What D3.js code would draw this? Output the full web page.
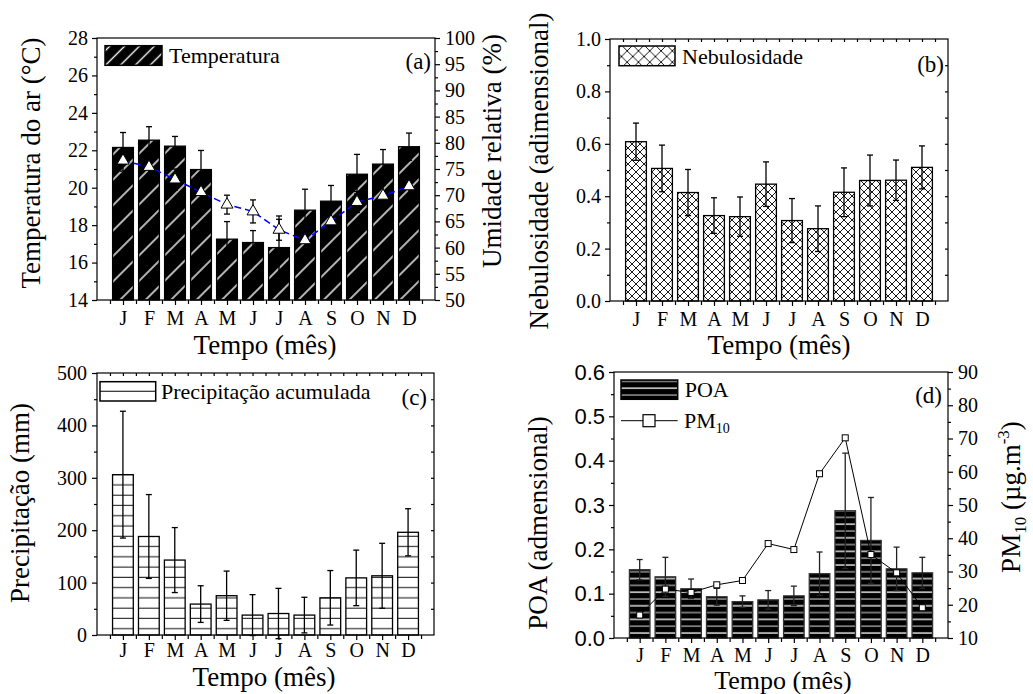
<!DOCTYPE html>
<html>
<head>
<meta charset="utf-8">
<script src="https://cdn.jsdelivr.net/npm/d3@7"></script>
<style>
  body { margin: 0; background: #fff; }
  svg text { fill: #000; }
</style>
</head>
<body>
<script>
// Dados mensais
var meses = ["J", "F", "M", "A", "M", "J", "J", "A", "S", "O", "N", "D"];

var temperatura      = [22.15, 22.54, 22.22, 20.97, 17.25, 17.07, 16.80, 18.80, 19.28, 20.72, 21.26, 22.19];
var temperaturaErro  = [0.80, 0.72, 0.52, 1.02, 0.94, 0.64, 1.69, 1.12, 0.84, 1.06, 0.78, 0.73];
var umidade          = [76.6, 75.4, 73.0, 70.6, 68.2, 66.9, 63.4, 61.4, 65.0, 68.7, 69.9, 71.7];
var umidadeErro      = [2.0, 2.0, 2.0, 2.0, 1.8, 2.2, 2.0, 2.0, 2.0, 2.0, 2.0, 2.0];

var nebulosidade     = [0.608, 0.506, 0.414, 0.326, 0.322, 0.446, 0.307, 0.276, 0.415, 0.460, 0.461, 0.510];
var nebulosidadeErro = [0.071, 0.089, 0.088, 0.068, 0.075, 0.085, 0.084, 0.087, 0.093, 0.097, 0.077, 0.082];

var precipitacao     = [306, 188, 143, 59, 75, 38, 41, 38, 71, 109, 113, 196];
var precipitacaoErro = [121, 80, 62, 35, 47, 39, 48, 34, 52, 53, 62, 45];

var poa              = [0.154, 0.138, 0.111, 0.093, 0.082, 0.086, 0.095, 0.145, 0.287, 0.220, 0.156, 0.147];
var poaErro          = [0.023, 0.044, 0.022, 0.019, 0.013, 0.021, 0.022, 0.049, 0.130, 0.097, 0.049, 0.035];
var pm10             = [16.9, 24.7, 23.7, 26.0, 27.3, 38.4, 36.6, 59.4, 70.2, 35.1, 29.6, 19.1];

var serif = "'Liberation Serif', 'Times New Roman', serif";
var sans  = "'Liberation Sans', Arial, sans-serif";

var width = 1033, height = 694;

var svg = d3.select("body")
    .append("svg")
    .attr("width", width)
    .attr("height", height);

var defs = svg.append("defs");

// ---- hachuras ----
function diagonal(id, s) {
    var p = defs.append("pattern").attr("id", id)
        .attr("patternUnits", "userSpaceOnUse")
        .attr("width", s).attr("height", s)
        .attr("patternTransform", "rotate(45)");
    p.append("rect").attr("width", s).attr("height", s).attr("fill", "#000");
    p.append("line").attr("x1", s / 2).attr("x2", s / 2).attr("y1", 0).attr("y2", s)
        .attr("stroke", "#fff").attr("stroke-width", 1.4);
}
diagonal("diagA", 18);
diagonal("diagALeg", 10.5);

function cruzada(id, s) {
    var p = defs.append("pattern").attr("id", id)
        .attr("patternUnits", "userSpaceOnUse")
        .attr("width", s).attr("height", s);
    p.append("rect").attr("width", s).attr("height", s).attr("fill", "#fff");
    p.append("path").attr("d", "M0,0L" + s + "," + s + "M" + s + ",0L0," + s)
        .attr("stroke", "#000").attr("stroke-width", 0.9);
}
cruzada("cross", 8);
cruzada("crossLeg", 11.3);

var hc = defs.append("pattern").attr("id", "horizC")
    .attr("patternUnits", "userSpaceOnUse")
    .attr("width", 10).attr("height", 10.27).attr("y", 623.7);
hc.append("rect").attr("width", 10).attr("height", 10.27).attr("fill", "#fff");
hc.append("line").attr("x1", 0).attr("x2", 10).attr("y1", 5).attr("y2", 5)
    .attr("stroke", "#222").attr("stroke-width", 1.1);

var hd = defs.append("pattern").attr("id", "horizD")
    .attr("patternUnits", "userSpaceOnUse")
    .attr("width", 10).attr("height", 13.6).attr("y", 630);
hd.append("rect").attr("width", 10).attr("height", 13.6).attr("fill", "#000");
hd.append("line").attr("x1", 0).attr("x2", 10).attr("y1", 3).attr("y2", 3)
    .attr("stroke", "#fff").attr("stroke-width", 1.3);
hd.append("line").attr("x1", 0).attr("x2", 10).attr("y1", 9.8).attr("y2", 9.8)
    .attr("stroke", "#aaa").attr("stroke-width", 1.3);

// ---- funções auxiliares ----
function estilo(g, size, family) {
    g.attr("font-family", family || serif).attr("font-size", size);
    g.select(".domain").remove();
    g.selectAll("line").attr("stroke", "#000").attr("stroke-width", 1.2);
}

function moldura(L, T, R, B) {
    svg.append("rect")
        .attr("x", L).attr("y", T)
        .attr("width", R - L).attr("height", B - T)
        .attr("fill", "none")
        .attr("stroke", "#000")
        .attr("stroke-width", 1.2);
}

function eixoX(x, T, B, topo, pad) {
    var g = svg.append("g").attr("transform", "translate(0," + B + ")")
        .call(d3.axisBottom(x)
            .tickValues(d3.range(1, 13))
            .tickFormat(function(d, i) { return meses[i]; })
            .tickSize(5).tickPadding(pad));
    estilo(g, 20);
    var m = svg.append("g").attr("transform", "translate(0," + B + ")")
        .call(d3.axisBottom(x).tickValues(d3.range(0.5, 13, 1)).tickSize(4).tickFormat(""));
    estilo(m, 20);
    if (topo) {
        var t = svg.append("g").attr("transform", "translate(0," + T + ")")
            .call(d3.axisTop(x).tickValues(d3.range(0.5, 13, 0.5)).tickSize(-3).tickFormat(""));
        estilo(t, 20);
    }
}

function eixoY(y, pos, lado, maiores, menores, fmt, size, family, pad) {
    var ax = lado === "left" ? d3.axisLeft : d3.axisRight;
    var g = svg.append("g").attr("transform", "translate(" + pos + ",0)")
        .call(ax(y).tickValues(maiores).tickFormat(fmt).tickSize(5).tickPadding(pad));
    estilo(g, size, family);
    var m = svg.append("g").attr("transform", "translate(" + pos + ",0)")
        .call(ax(y).tickValues(menores).tickFormat("").tickSize(3));
    estilo(m, size, family);
}

function espelhoY(y, pos, valores) {
    var g = svg.append("g").attr("transform", "translate(" + pos + ",0)")
        .call(d3.axisRight(y).tickValues(valores).tickFormat("").tickSize(-3));
    estilo(g, 20);
}

function barras(x, y, vals, fill, stroke) {
    var bw = (x(1) - x(0)) * 0.8;
    svg.append("g").selectAll("rect")
        .data(vals)
        .enter()
        .append("rect")
        .attr("x", function(d, i) { return x(i + 1) - bw / 2; })
        .attr("y", function(d) { return y(d); })
        .attr("width", bw)
        .attr("height", function(d) { return y.range()[0] - y(d); })
        .attr("fill", fill)
        .attr("stroke", stroke || "#000")
        .attr("stroke-width", 1.3);
}

function erros(x, y, vals, errs, cor) {
    var g = svg.append("g").attr("stroke", cor || "#000").attr("stroke-width", 1.3);
    vals.forEach(function(v, i) {
        var cx = x(i + 1), y1 = y(v + errs[i]), y2 = y(v - errs[i]);
        g.append("line").attr("x1", cx).attr("x2", cx).attr("y1", y1).attr("y2", y2);
        g.append("line").attr("x1", cx - 3).attr("x2", cx + 3).attr("y1", y1).attr("y2", y1);
        g.append("line").attr("x1", cx - 3).attr("x2", cx + 3).attr("y1", y2).attr("y2", y2);
    });
}

function tituloY(txt, x, y, size) {
    return svg.append("text")
        .attr("transform", "translate(" + x + "," + y + ") rotate(-90)")
        .attr("text-anchor", "middle")
        .attr("font-family", serif)
        .attr("font-size", size || 27)
        .text(txt);
}

function tituloX(x, y, size) {
    svg.append("text")
        .attr("x", x).attr("y", y)
        .attr("text-anchor", "middle")
        .attr("font-family", serif)
        .attr("font-size", size || 27)
        .text("Tempo (mês)");
}

function rotulo(txt, x, y) {
    svg.append("text")
        .attr("x", x).attr("y", y)
        .attr("text-anchor", "end")
        .attr("font-family", serif)
        .attr("font-size", 23)
        .text(txt);
}

function legenda(x, y, w, h, fill, txt) {
    svg.append("rect").attr("x", x).attr("y", y).attr("width", w).attr("height", h)
        .attr("fill", fill).attr("stroke", "#000").attr("stroke-width", 1.5);
    svg.append("text").attr("x", x + w + 7).attr("y", y + h - 2)
        .attr("font-family", serif).attr("font-size", 22)
        .text(txt);
}

// ================= (a) temperatura e umidade =================
(function() {
    var L = 97, R = 435, T = 38, B = 300;
    var x = d3.scaleLinear().domain([0, 13]).range([L, R]);
    var y = d3.scaleLinear().domain([14, 28]).range([B, T]);
    var y2 = d3.scaleLinear().domain([50, 100]).range([B, T]);

    barras(x, y, temperatura, "url(#diagA)");
    erros(x, y, temperatura, temperaturaErro);

    var linha = d3.line()
        .x(function(d, i) { return x(i + 1); })
        .y(function(d) { return y2(d); });
    svg.append("path")
        .datum(umidade)
        .attr("d", linha)
        .attr("fill", "none")
        .attr("stroke", "#0000ff")
        .attr("stroke-width", 1.5)
        .attr("stroke-dasharray", "7,4");
    erros(x, y2, umidade, umidadeErro);
    svg.append("g").selectAll("path")
        .data(umidade)
        .enter()
        .append("path")
        .attr("d", d3.symbol().type(d3.symbolTriangle).size(62))
        .attr("transform", function(d, i) { return "translate(" + x(i + 1) + "," + y2(d) + ")"; })
        .attr("fill", "#fff")
        .attr("stroke", "#000")
        .attr("stroke-width", 1);

    moldura(L, T, R, B);
    eixoX(x, T, B, false, 6);
    eixoY(y, L, "left", d3.range(14, 28.1, 2), d3.range(15, 28, 2), d3.format("d"), 20, serif, 4);
    eixoY(y2, R, "right", d3.range(50, 100.1, 5), d3.range(52.5, 100, 5), d3.format("d"), 20, serif, 5);

    legenda(105, 45.7, 57, 19.6, "url(#diagALeg)", "Temperatura");
    rotulo("(a)", 431, 69);
    tituloY("Temperatura do ar (°C)", 40, 163);
    tituloY("Umidade relativa (%)", 501, 151);
    tituloX(265, 354);
})();

// ================= (b) nebulosidade =================
(function() {
    var L = 610, R = 948, T = 39, B = 301;
    var x = d3.scaleLinear().domain([0, 13]).range([L, R]);
    var y = d3.scaleLinear().domain([0, 1]).range([B, T]);

    barras(x, y, nebulosidade, "url(#cross)");
    erros(x, y, nebulosidade, nebulosidadeErro);

    moldura(L, T, R, B);
    eixoX(x, T, B, true, 6);
    eixoY(y, L, "left", d3.range(0, 1.01, 0.2), d3.range(0.1, 1, 0.2), d3.format(".1f"), 20, serif, 4);
    espelhoY(y, R, d3.range(0.1, 1, 0.1));

    legenda(619, 46, 56, 19.7, "url(#crossLeg)", "Nebulosidade");
    rotulo("(b)", 944, 72);
    tituloY("Nebulosidade (adimensional)", 548, 171);
    tituloX(779, 354);
})();

// ================= (c) precipitação =================
(function() {
    var L = 97, R = 434, T = 373, B = 635;
    var x = d3.scaleLinear().domain([0, 13]).range([L, R]);
    var y = d3.scaleLinear().domain([0, 500]).range([B, T]);

    barras(x, y, precipitacao, "url(#horizC)");
    erros(x, y, precipitacao, precipitacaoErro);

    moldura(L, T, R, B);
    eixoX(x, T, B, true, 3);
    eixoY(y, L, "left", d3.range(0, 501, 100), d3.range(50, 500, 100), d3.format("d"), 20, serif, 5);
    espelhoY(y, R, d3.range(50, 500, 50));

    svg.append("rect").attr("x", 100).attr("y", 381.7).attr("width", 55.7).attr("height", 19.3)
        .attr("fill", "#fff").attr("stroke", "#000").attr("stroke-width", 1.5);
    svg.append("line").attr("x1", 100).attr("x2", 155.7).attr("y1", 391.3).attr("y2", 391.3)
        .attr("stroke", "#000").attr("stroke-width", 1.1);
    svg.append("text").attr("x", 161).attr("y", 399)
        .attr("font-family", serif).attr("font-size", 22)
        .text("Precipitação acumulada");
    rotulo("(c)", 427, 405);
    tituloY("Precipitação (mm)", 29, 503);
    tituloX(264, 686);
})();

// ================= (d) POA e PM10 =================
(function() {
    var L = 614, R = 948, T = 372, B = 638;
    var x = d3.scaleLinear().domain([0, 13]).range([L, R]);
    var y = d3.scaleLinear().domain([0, 0.6]).range([B, T]);
    var y2 = d3.scaleLinear().domain([10, 90]).range([B, T]);

    barras(x, y, poa, "url(#horizD)", "#333");
    erros(x, y, poa, poaErro, "#222");

    var linha = d3.line()
        .x(function(d, i) { return x(i + 1); })
        .y(function(d) { return y2(d); });
    svg.append("path")
        .datum(pm10)
        .attr("d", linha)
        .attr("fill", "none")
        .attr("stroke", "#000")
        .attr("stroke-width", 1);
    svg.append("g").selectAll("rect")
        .data(pm10)
        .enter()
        .append("rect")
        .attr("x", function(d, i) { return x(i + 1) - 3; })
        .attr("y", function(d) { return y2(d) - 3; })
        .attr("width", 6).attr("height", 6)
        .attr("fill", "#fff")
        .attr("stroke", "#000")
        .attr("stroke-width", 1);

    moldura(L, T, R, B);
    eixoX(x, T, B, false, 5);
    eixoY(y, L, "left", d3.range(0, 0.61, 0.1), d3.range(0.05, 0.6, 0.1), d3.format(".1f"), 22, sans, 4);
    eixoY(y2, R, "right", d3.range(10, 91, 10), d3.range(15, 90, 10), d3.format("d"), 20, serif, 5);

    // legenda
    legenda(621, 380, 56.7, 19.3, "url(#horizD)", "POA");
    svg.append("line").attr("x1", 621).attr("x2", 677.7).attr("y1", 420.7).attr("y2", 420.7)
        .attr("stroke", "#000").attr("stroke-width", 1);
    svg.append("rect").attr("x", 643).attr("y", 414.7).attr("width", 12).attr("height", 12)
        .attr("fill", "#fff").attr("stroke", "#000").attr("stroke-width", 1.2);
    var leg = svg.append("text").attr("x", 684).attr("y", 428)
        .attr("font-family", serif).attr("font-size", 22);
    leg.append("tspan").text("PM");
    leg.append("tspan").attr("font-size", 14).attr("dy", 5).text("10");

    rotulo("(d)", 942, 403);
    tituloY("POA (admensional)", 547, 523);

    var t = tituloY("", 1020, 497);
    t.append("tspan").text("PM");
    t.append("tspan").attr("font-size", 17).attr("dy", 6).text("10");
    t.append("tspan").attr("dy", -6).text(" (µg.m");
    t.append("tspan").attr("font-size", 17).attr("dy", -11).text("-3");
    t.append("tspan").attr("dy", 11).text(")");

    tituloX(783, 689, 26);
})();
</script>
</body>
</html>
